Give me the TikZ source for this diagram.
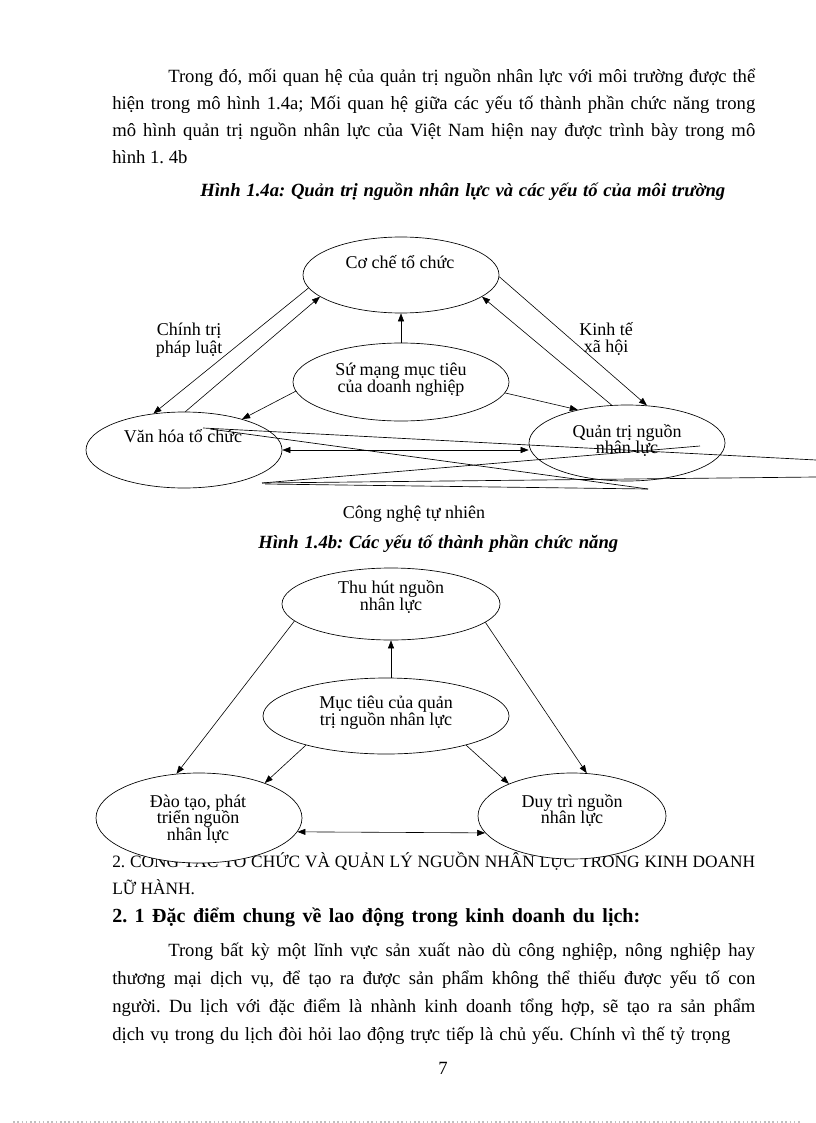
\documentclass[tikz,border=0pt]{standalone}
\usepackage{fontspec}
\setmainfont{Liberation Serif}
\usetikzlibrary{shapes.geometric,arrows.meta}
\frenchspacing
\tikzset{
  ell/.style={draw, ellipse, inner sep=0pt, line width=0.5pt, fill=white},
  arr/.style={-{Triangle[length=6pt,width=4.5pt]}, line width=0.45pt},
  darr/.style={{Triangle[length=6pt,width=4.5pt]}-{Triangle[length=6pt,width=4.5pt]}, line width=0.45pt},
  body/.style={anchor=base west, inner sep=0pt, font=\fontsize{14}{16}\selectfont},
  dtext/.style={anchor=base, inner sep=0pt, font=\fontsize{13.5}{15}\selectfont},
  junk/.style={line width=0.5pt},
}
\begin{document}
\frenchspacing
\begin{tikzpicture}[x=0.75pt,y=-0.75pt]
\useasboundingbox (0,0) rectangle (816,1123);

% ---------- body text ----------
\node[body] (t1) at (168,83) {\makebox[440.25pt][s]{Trong đó, mối quan hệ của quản trị nguồn nhân lực với môi trường được thể}};
\node[body] (t2) at (112,110) {\makebox[482.25pt][s]{hiện trong mô hình 1.4a; Mối quan hệ giữa các yếu tố thành phần chức năng trong}};
\node[body] (t3) at (112,137) {\makebox[482.25pt][s]{mô hình quản trị nguồn nhân lực của Việt Nam hiện nay được trình bày trong mô}};
\node[body] (t4) at (112,164) {hình 1. 4b};
\node[body, font=\fontsize{14}{16}\selectfont\bfseries\itshape] (cap1) at (200,197) {\makebox[393.75pt][s]{Hình 1.4a: Quản trị nguồn nhân lực và các yếu tố của môi trường}};
\node[body, font=\fontsize{14}{16}\selectfont\bfseries\itshape] (cap2) at (258,548) {\makebox[270pt][s]{Hình 1.4b: Các yếu tố thành phần chức năng}};

\node[body, font=\fontsize{13}{15}\selectfont] (h1) at (112,867) {\makebox[482.25pt][s]{2. CÔNG TÁC TỔ CHỨC VÀ QUẢN LÝ NGUỒN NHÂN LỰC TRONG KINH DOANH}};
\node[body, font=\fontsize{13}{15}\selectfont] (h2) at (112,894) {LỮ HÀNH.};
\node[body, font=\fontsize{15}{17}\selectfont\bfseries] (h3) at (112,922) {\makebox[396pt][s]{2. 1 Đặc điểm chung về lao động trong kinh doanh du lịch:}};
\node[body] (p1) at (168,956) {\makebox[440.25pt][s]{Trong bất kỳ một lĩnh vực sản xuất nào dù công nghiệp, nông nghiệp hay}};
\node[body] (p2) at (112,984) {\makebox[482.25pt][s]{thương mại dịch vụ, để tạo ra được sản phẩm không thể thiếu được yếu tố con}};
\node[body] (p3) at (112,1012) {\makebox[482.25pt][s]{người. Du lịch với đặc điểm là nhành kinh doanh tổng hợp, sẽ tạo ra sản phẩm}};
\node[body] (p4) at (112,1040) {\makebox[463.5pt][s]{dịch vụ trong du lịch đòi hỏi lao động trực tiếp là chủ yếu. Chính vì thế tỷ trọng}};
\node[anchor=base, inner sep=0pt, font=\fontsize{14}{16}\selectfont] (pg) at (443,1074) {7};
\coordinate (dl) at (13,1122);
\coordinate (dr) at (800,1122);
\draw[black!25, dotted, line width=1.2pt] (dl) -- (dr);

% ---------- Figure 1.4a ----------
\node[ell, minimum width=147pt, minimum height=57pt] (coche) at (401,275) {};
\node[ell, minimum width=162pt, minimum height=58.5pt] (sumang) at (401,382) {};
\node[ell, minimum width=147pt, minimum height=57pt] (vanhoa) at (184,450) {};
\node[ell, minimum width=147pt, minimum height=57pt] (quantri) at (627,443) {};

\node[dtext] (lcoche) at (400,268) {Cơ chế tổ chức};
\node[dtext] (lsm1) at (401,375) {Sứ mạng mục tiêu};
\node[dtext] (lsm2) at (401,392) {của doanh nghiệp};
\node[dtext] (lvh) at (183,442) {Văn hóa tổ chức};
\node[dtext] (lqt1) at (627,437) {Quản trị nguồn};
\node[dtext] (lqt2) at (627,453) {nhân lực};
\node[dtext] (lct1) at (189,335) {Chính trị};
\node[dtext] (lct2) at (189,353) {pháp luật};
\node[dtext] (lkt1) at (606,335) {Kinh tế};
\node[dtext] (lkt2) at (606,352) {xã hội};
\node[dtext] (lcn) at (414,518) {Công nghệ tự nhiên};

\draw[arr] (coche.188.8) -- (vanhoa.130);
\draw[arr] (vanhoa.88.6) -- (coche.195.6);
\draw[arr] (sumang.north) -- (coche.south);
\draw[arr] (coche.359) -- (quantri.62.8);
\draw[arr] (quantri.112.6) -- (coche.345.8);
\draw[arr] (sumang.185.3) -- (vanhoa.28.9);
\draw[arr] (sumang.354.8) -- (quantri.146.6);
\draw[darr] (vanhoa.east) -- (vanhoa.east -| quantri.west);

% stray lines
\coordinate (j1) at (203,428);
\coordinate (j2) at (816,460);
\coordinate (j3) at (210,429);
\coordinate (j4) at (648,489);
\coordinate (j5) at (265,484);
\coordinate (j6) at (262,483);
\coordinate (j7) at (700,446);
\coordinate (j8) at (816,477);
\draw[junk] (j1) -- (j2);
\draw[junk] (j3) -- (j4);
\draw[junk] (j5) -- (j4);
\draw[junk] (j6) -- (j7);
\draw[junk] (j6) -- (j8);

% ---------- Figure 1.4b ----------
\node[ell, minimum width=163.5pt, minimum height=54pt] (thuhut) at (391,604) {};
\node[ell, minimum width=184.5pt, minimum height=57pt] (muctieu) at (386,716) {};
\node[ell, minimum width=154.5pt, minimum height=67.5pt] (daotao) at (199,818) {};
\node[ell, minimum width=141pt, minimum height=64.5pt] (duytri) at (572,816) {};

\node[dtext] (lth1) at (391,593) {Thu hút nguồn};
\node[dtext] (lth2) at (391,610) {nhân lực};
\node[dtext] (lmt1) at (386,708) {Mục tiêu của quản};
\node[dtext] (lmt2) at (386,725) {trị nguồn nhân lực};
\node[dtext] (ldt1) at (198,807) {Đào tạo, phát};
\node[dtext] (ldt2) at (198,823) {triển nguồn};
\node[dtext] (ldt3) at (198,840) {nhân lực};
\node[dtext] (ldy1) at (572,807) {Duy trì nguồn};
\node[dtext] (ldy2) at (572,823) {nhân lực};

\draw[arr] (thuhut.south |- muctieu.north) -- (thuhut.south);
\draw[arr] (thuhut.190.3) -- (daotao.117);
\draw[arr] (thuhut.349.7) -- (duytri.71.6);
\draw[arr] (muctieu.200.3) -- (daotao.28.3);
\draw[arr] (muctieu.340.2) -- (duytri.153.4);
\draw[darr] (daotao.352.2) -- (duytri.191);
\end{tikzpicture}
\end{document}
